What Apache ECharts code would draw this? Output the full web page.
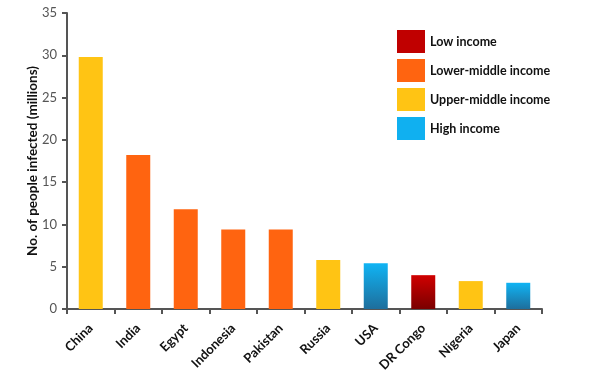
<!DOCTYPE html>
<html><head><meta charset="utf-8">
<script src="https://cdn.jsdelivr.net/npm/echarts@6/dist/echarts.min.js"></script>
<style>html,body{margin:0;padding:0;background:#fff}#c{width:600px;height:378px}</style>
</head><body><div id="c"></div>
<script>
var categories = ['China','India','Egypt','Indonesia','Pakistan','Russia','USA','DR Congo','Nigeria','Japan'];
var values = [29.8, 18.2, 11.8, 9.4, 9.4, 5.8, 5.4, 4.0, 3.3, 3.1];
var incomeGroup = ['Upper-middle income','Lower-middle income','Lower-middle income','Lower-middle income','Lower-middle income','Upper-middle income','High income','Low income','Upper-middle income','High income'];
var groups = ['Low income','Lower-middle income','Upper-middle income','High income'];
var yTicks = [0,5,10,15,20,25,30,35];

var grad = function(top, bottom){ return new echarts.graphic.LinearGradient(0,0,0,1,[{offset:0,color:top},{offset:1,color:bottom}]); };
var groupStyle = {
  'Low income': {legend:'#C00000', bar: grad('#D00000','#7A0000')},
  'Lower-middle income': {legend:'#FF6410', bar:'#FF6410'},
  'Upper-middle income': {legend:'#FFC414', bar:'#FFC414'},
  'High income': {legend:'#10B0F0', bar: grad('#10B4F4','#1E6E9C')}
};

var series = groups.map(function(g){
  return {
    name: g, type:'bar', barWidth: 24, barGap:'-100%',
    itemStyle:{color: groupStyle[g].bar},
    data: values.map(function(v,i){ return incomeGroup[i]===g ? v : '-'; })
  };
});

var chart = echarts.init(document.getElementById('c'), null, {renderer:'canvas'});
chart.setOption({
  animation:false,
  textStyle:{fontFamily:'Lato, "Open Sans", sans-serif'},
  legend:{
    data: groups.map(function(g){ return {name:g, itemStyle:{color:groupStyle[g].legend}}; }),
    orient:'vertical', left:392, top:25, itemWidth:28, itemHeight:23, itemGap:6,
    icon:'rect',
    textStyle:{fontSize:12.5, fontWeight:'bold', color:'#111', fontFamily:'Lato, sans-serif', padding:[0,0,0,0]}
  },
  grid:{left:67, right:58, top:13, bottom:69, containLabel:false},
  xAxis:{
    type:'category', data:categories, boundaryGap:true,
    axisLine:{lineStyle:{color:'#555', width:2}},
    axisTick:{show:true, length:5, lineStyle:{color:'#555', width:2}},
    axisLabel:{rotate:45, fontSize:13, fontWeight:'bold', color:'#111', margin:17, interval:0, fontFamily:'Lato, sans-serif'}
  },
  yAxis:{
    type:'value', min:0, max:35, interval:5,
    name:'No. of people infected (millions)', nameLocation:'middle', nameGap:27, nameMoveOverlap:false,
    nameTextStyle:{fontSize:13.5, fontWeight:'bold', color:'#111', fontFamily:'Lato, sans-serif'},
    axisLine:{show:true, lineStyle:{color:'#555', width:2}},
    axisTick:{show:true, length:5, lineStyle:{color:'#555', width:2}},
    splitLine:{show:false},
    axisLabel:{fontSize:13, color:'#555', margin:10, fontFamily:'Lato, sans-serif'}
  },
  series: series
});
</script></body></html>
